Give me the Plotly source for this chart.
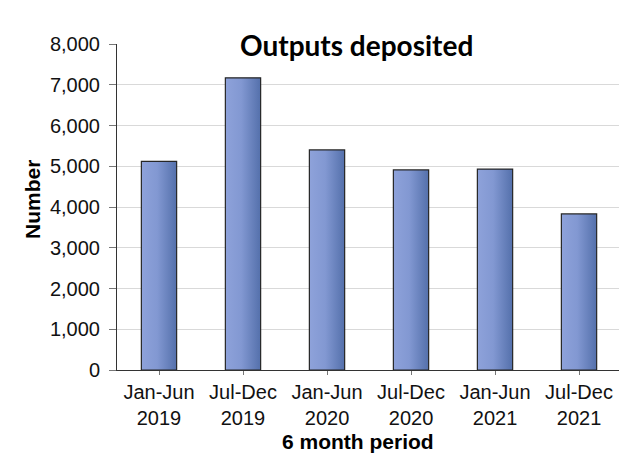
import plotly.graph_objects as go

# Outputs deposited per six-month period
periods = ["Jan-Jun<br>2019", "Jul-Dec<br>2019", "Jan-Jun<br>2020",
           "Jul-Dec<br>2020", "Jan-Jun<br>2021", "Jul-Dec<br>2021"]
outputs = [5120, 7170, 5400, 4910, 4930, 3830]
y_ticks = [0, 1000, 2000, 3000, 4000, 5000, 6000, 7000, 8000]

BAR_WIDTH = 0.42
BAR_SCALE = [[0.0, "#8ea2da"], [0.45, "#8298d2"], [1.0, "#5470ab"]]
TEXT_FONT = "Liberation Sans, Arial, sans-serif"

fig = go.Figure()

# Each bar is a filled rectangle so it can carry a left-to-right gradient
for i, v in enumerate(outputs):
    x0, x1 = i - BAR_WIDTH / 2, i + BAR_WIDTH / 2
    fig.add_trace(go.Scatter(
        x=[x0, x1, x1, x0, x0],
        y=[0, 0, v, v, 0],
        mode="lines",
        fill="toself",
        fillgradient=dict(type="horizontal", colorscale=BAR_SCALE),
        line=dict(color="#262626", width=1.2),
        hoverinfo="skip",
        showlegend=False,
    ))

fig.update_layout(
    width=619,
    height=454,
    margin=dict(l=117, r=0, t=44, b=84),
    paper_bgcolor="white",
    plot_bgcolor="white",
    font=dict(family=TEXT_FONT, size=20, color="#111111"),
    xaxis=dict(
        range=[-0.5, 5.476],
        tickvals=list(range(len(periods))),
        ticktext=periods,
        showgrid=False,
        zeroline=False,
        showline=True,
        linecolor="#333333",
        linewidth=1,
        ticks="outside",
        ticklen=4,
        tickcolor="#777777",
        tickfont=dict(size=20),
    ),
    yaxis=dict(
        range=[0, 8000],
        tickvals=y_ticks,
        tickformat=",",
        showgrid=True,
        gridcolor="#d9d9d9",
        gridwidth=1,
        zeroline=False,
        showline=True,
        linecolor="#333333",
        linewidth=1,
        ticks="outside",
        ticklen=7,
        tickcolor="#777777",
        tickfont=dict(size=20),
        ticklabelstandoff=5,
    ),
    annotations=[
        dict(text="<b>Outputs deposited</b>", x=356, y=454 - 45,
             showarrow=False,
             font=dict(family="Lato, Carlito, sans-serif", size=28, color="black"),
             bgcolor="white", xanchor="center", yanchor="middle"),
        dict(text="<b>6 month period</b>", x=358, y=454 - 441,
             showarrow=False, font=dict(size=21, color="black"),
             xanchor="center", yanchor="middle"),
        dict(text="<b>Number</b>", x=32, y=454 - 200, textangle=-90,
             showarrow=False, font=dict(size=21, color="black"),
             xanchor="center", yanchor="middle"),
    ],
)

# Annotation positions above are given in pixels; convert them to paper units
plot_w = 619 - 117
plot_h = 454 - 44 - 84
for ann in fig.layout.annotations:
    ann.xref = "paper"
    ann.yref = "paper"
    ann.x = (ann.x - 117) / plot_w
    ann.y = (ann.y - 84) / plot_h

fig.write_html("out.html")
